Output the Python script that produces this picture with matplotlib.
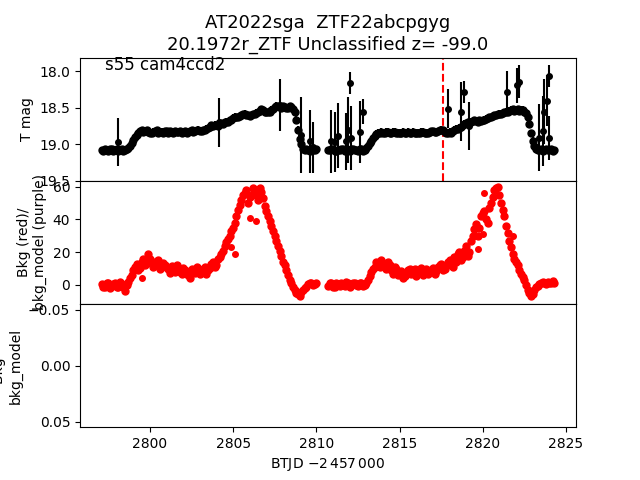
import numpy as np
import matplotlib
matplotlib.use("Agg")
import matplotlib.pyplot as plt

# ==========================================
# 1. LIGHT CURVE
# ==========================================
# first orbit
t1 = [2797.1, 2797.3, 2797.5, 2797.7, 2797.9, 2798.1, 2798.3, 2798.5, 2798.7, 2798.9,
      2799.1, 2799.3, 2799.5, 2799.7, 2799.9, 2800.1, 2800.3, 2800.5, 2800.7, 2800.9,
      2801.1, 2801.3, 2801.5, 2801.7, 2801.9, 2802.1, 2802.3, 2802.5, 2802.7, 2802.9,
      2803.1, 2803.3, 2803.5, 2803.7, 2803.9, 2804.1, 2804.3, 2804.5, 2804.7, 2804.9,
      2805.1, 2805.3, 2805.5, 2805.7, 2805.9, 2806.1, 2806.3, 2806.5, 2806.7, 2806.9,
      2807.1, 2807.3, 2807.5, 2807.7, 2807.9, 2808.1, 2808.3, 2808.5, 2808.7, 2808.9,
      2809.1, 2809.3, 2809.5, 2809.7, 2809.9]
mag1 = [19.08, 19.07, 19.09, 19.07, 19.08, 19.09, 19.07, 19.08, 19.05, 18.98,
        18.90, 18.84, 18.81, 18.82, 18.83, 18.84, 18.82, 18.84, 18.83, 18.82,
        18.84, 18.83, 18.82, 18.83, 18.84, 18.82, 18.83, 18.81, 18.82, 18.80,
        18.82, 18.80, 18.78, 18.74, 18.73, 18.75, 18.71, 18.70, 18.69, 18.66,
        18.62, 18.63, 18.60, 18.58, 18.60, 18.60, 18.59, 18.56, 18.52, 18.55,
        18.56, 18.53, 18.49, 18.48, 18.50, 18.49, 18.50, 18.49, 18.55, 18.80,
        19.00, 19.08, 19.08, 19.07, 19.08]
bkg1 = [0.5, -1.5, 1.0, -0.5, 1.5, -1.0, 0.5, -3.5, 2.0, 6.0,
        11.0, 9.0, 14.0, 12.0, 19.0, 14.0, 12.5, 15.0, 11.0, 12.5,
        9.5, 11.5, 8.0, 10.0, 7.0, 9.0, 6.0, 9.5, 7.5, 10.0,
        8.0, 11.0, 9.0, 13.0, 11.0, 16.0, 19.0, 24.0, 28.0, 33.0,
        38.0, 46.0, 52.0, 56.0, 50.0, 55.0, 58.0, 52.0, 57.0, 48.0,
        42.0, 36.0, 30.0, 24.0, 18.0, 12.0, 6.0, 1.0, -3.0, -5.5,
        -4.0, -2.0, 0.5, 1.5, 0.5]
t1b = [2797.2, 2797.4, 2797.6, 2797.8, 2798.0, 2798.2, 2798.4, 2798.6, 2798.8, 2799.0,
       2799.2, 2799.4, 2799.6, 2799.8, 2800.0, 2800.2, 2800.4, 2800.6, 2800.8, 2801.0,
       2801.2, 2801.4, 2801.6, 2801.8, 2802.0, 2802.2, 2802.4, 2802.6, 2802.8, 2803.0,
       2803.2, 2803.4, 2803.6, 2803.8, 2804.0, 2804.2, 2804.4, 2804.6, 2804.8, 2805.0,
       2805.2, 2805.4, 2805.6, 2805.8, 2806.0, 2806.2, 2806.4, 2806.6, 2806.8, 2807.0,
       2807.2, 2807.4, 2807.6, 2807.8, 2808.0, 2808.2, 2808.4, 2808.6, 2808.8, 2809.0,
       2809.2, 2809.4, 2809.6, 2809.8, 2810.0]
mag1b = [19.09, 19.08, 19.07, 19.09, 19.07, 19.08, 19.09, 19.07, 19.02, 18.94,
         18.87, 18.82, 18.83, 18.81, 18.84, 18.83, 18.81, 18.83, 18.84, 18.82,
         18.82, 18.84, 18.83, 18.82, 18.83, 18.84, 18.82, 18.83, 18.81, 18.82,
         18.81, 18.79, 18.76, 18.75, 18.74, 18.72, 18.72, 18.69, 18.67, 18.64,
         18.63, 18.61, 18.59, 18.60, 18.61, 18.59, 18.57, 18.54, 18.53, 18.56,
         18.55, 18.51, 18.47, 18.49, 18.48, 18.50, 18.48, 18.51, 18.66, 18.92,
         19.06, 19.07, 19.09, 19.08, 19.07]
bkg1b = [-1.0, 1.5, -2.0, 0.5, -1.5, 2.0, -1.0, 0.0, 4.0, 9.0,
         13.0, 10.5, 16.0, 13.5, 16.0, 11.0, 14.5, 10.0, 13.5, 11.0,
         7.5, 10.5, 12.0, 8.0, 10.5, 7.0, 4.0, 8.0, 11.0, 6.5,
         9.5, 7.0, 10.5, 14.0, 12.0, 17.0, 21.0, 26.0, 30.0, 35.0,
         42.0, 49.0, 55.0, 58.0, 54.0, 59.0, 55.0, 59.5, 53.0, 45.0,
         39.0, 33.0, 27.0, 21.0, 14.0, 9.0, 3.0, -1.0, -5.0, -6.5,
         -3.0, -1.0, 1.0, 0.0, 1.0]

# second orbit
t2 = [2810.7, 2810.9, 2811.1, 2811.3, 2811.5, 2811.7, 2811.9, 2812.1, 2812.3, 2812.5,
      2812.7, 2812.9, 2813.1, 2813.3, 2813.5, 2813.7, 2813.9, 2814.1, 2814.3, 2814.5,
      2814.7, 2814.9, 2815.1, 2815.3, 2815.5, 2815.7, 2815.9, 2816.1, 2816.3, 2816.5,
      2816.7, 2816.9, 2817.1, 2817.3, 2817.5, 2817.7, 2817.9, 2818.1, 2818.3, 2818.5,
      2818.7, 2818.9, 2819.1, 2819.3, 2819.5, 2819.7, 2819.9, 2820.1, 2820.3, 2820.5,
      2820.7, 2820.9, 2821.1, 2821.3, 2821.5, 2821.7, 2821.9, 2822.1, 2822.3, 2822.5,
      2822.7, 2822.9, 2823.1, 2823.3, 2823.5, 2823.7, 2823.9, 2824.1, 2824.3]
mag2 = [19.08, 19.07, 19.09, 19.08, 19.07, 19.09, 19.08, 19.07, 19.08, 19.09,
        19.07, 19.08, 19.02, 18.95, 18.88, 18.84, 18.83, 18.84, 18.83, 18.84,
        18.83, 18.84, 18.85, 18.84, 18.83, 18.84, 18.85, 18.84, 18.83, 18.85,
        18.84, 18.82, 18.83, 18.82, 18.80, 18.83, 18.84, 18.84, 18.80, 18.79,
        18.76, 18.72, 18.70, 18.69, 18.67, 18.69, 18.68, 18.66, 18.64, 18.63,
        18.60, 18.59, 18.58, 18.56, 18.55, 18.53, 18.54, 18.52, 18.53, 18.55,
        18.62, 18.85, 19.02, 19.08, 19.07, 19.08, 19.08, 19.07, 19.08]
bkg2 = [-0.5, 1.0, -1.0, 0.5, 1.5, -0.5, 1.0, 0.0, 1.5, -0.5,
        1.0, 0.0, 3.0, 8.0, 11.0, 13.0, 15.0, 12.0, 14.0, 9.0,
        11.0, 6.0, 8.5, 5.5, 9.0, 7.0, 9.5, 7.5, 10.5, 8.0,
        6.5, 9.0, 7.0, 11.0, 13.0, 10.0, 14.0, 12.0, 17.0, 19.0,
        15.0, 21.0, 18.0, 27.0, 34.0, 30.0, 42.0, 45.0, 38.0, 50.0,
        58.0, 60.0, 50.0, 42.0, 32.0, 23.0, 16.0, 12.0, 7.0, 3.0,
        -3.0, -6.5, -3.0, -0.5, 1.0, 1.5, 2.0, 1.0, 1.5]
t2b = [2810.8, 2811.0, 2811.2, 2811.4, 2811.6, 2811.8, 2812.0, 2812.2, 2812.4, 2812.6,
       2812.8, 2813.0, 2813.2, 2813.4, 2813.6, 2813.8, 2814.0, 2814.2, 2814.4, 2814.6,
       2814.8, 2815.0, 2815.2, 2815.4, 2815.6, 2815.8, 2816.0, 2816.2, 2816.4, 2816.6,
       2816.8, 2817.0, 2817.2, 2817.4, 2817.6, 2817.8, 2818.0, 2818.2, 2818.4, 2818.6,
       2818.8, 2819.0, 2819.2, 2819.4, 2819.6, 2819.8, 2820.0, 2820.2, 2820.4, 2820.6,
       2820.8, 2821.0, 2821.2, 2821.4, 2821.6, 2821.8, 2822.0, 2822.2, 2822.4, 2822.6,
       2822.8, 2823.0, 2823.2, 2823.4, 2823.6, 2823.8, 2824.0, 2824.2]
mag2b = [19.08, 19.07, 19.09, 19.08, 19.07, 19.08, 19.09, 19.07, 19.08, 19.07,
         19.09, 19.05, 18.98, 18.91, 18.86, 18.84, 18.85, 18.83, 18.84, 18.83,
         18.85, 18.84, 18.83, 18.85, 18.84, 18.83, 18.84, 18.85, 18.83, 18.84,
         18.83, 18.82, 18.83, 18.81, 18.81, 18.84, 18.83, 18.82, 18.79, 18.77,
         18.74, 18.71, 18.70, 18.68, 18.68, 18.67, 18.67, 18.65, 18.63, 18.61,
         18.60, 18.58, 18.57, 18.55, 18.54, 18.52, 18.53, 18.54, 18.53, 18.57,
         18.72, 18.95, 19.06, 19.08, 19.09, 19.07, 19.08, 19.09]
bkg2b = [1.0, -1.5, 1.5, -0.5, 0.5, 2.0, -1.0, 1.0, 0.0, 1.5,
         -0.5, 1.5, 5.5, 10.0, 14.0, 11.0, 13.5, 10.0, 12.5, 7.0,
         10.0, 7.5, 4.5, 7.5, 10.0, 8.0, 5.5, 9.0, 6.0, 10.0,
         8.0, 10.5, 8.5, 12.0, 9.0, 12.5, 15.0, 11.0, 14.0, 20.0,
         17.0, 24.0, 20.0, 30.0, 37.0, 35.0, 44.0, 40.0, 47.0, 54.0,
         59.0, 55.0, 46.0, 36.0, 27.0, 19.0, 14.0, 9.0, 5.0, 0.0,
         -5.0, -5.5, -1.5, 0.5, 2.0, 0.5, 1.5, 2.5]
mag_err = 0.05

# noisy points with big error bars
out_t = [2798.06, 2804.15, 2807.8, 2809.1, 2809.6, 2809.8, 2810.9, 2811.1, 2811.3, 2811.8,
         2811.9, 2812.05, 2812.1, 2812.6, 2812.8, 2817.9, 2818.7, 2818.85, 2819.2, 2821.45,
         2822.05, 2822.2, 2823.4, 2823.6, 2823.7, 2823.85, 2823.95, 2824.0]
out_mag = [18.97, 18.70, 18.46, 18.87, 18.96, 19.04, 18.96, 18.97, 18.88, 18.96,
           18.80, 18.16, 18.91, 18.83, 18.55, 18.51, 18.55, 18.28, 18.75, 18.28,
           18.19, 18.14, 18.91, 18.82, 18.55, 18.40, 18.91, 18.06]
out_err = [0.33, 0.33, 0.36, 0.52, 0.43, 0.35, 0.43, 0.41, 0.45, 0.39,
           0.45, 0.15, 0.44, 0.43, 0.17, 0.27, 0.40, 0.15, 0.33, 0.28,
           0.24, 0.23, 0.46, 0.48, 0.45, 0.35, 0.30, 0.15]

# stray background points
bkg_extra_t = [2799.5, 2804.9, 2805.1, 2806.0, 2806.4, 2819.7, 2820.0, 2820.1, 2821.8]
bkg_extra_v = [4.5, 23.0, 19.0, 41.0, 39.0, 22.0, 31.0, 56.0, 30.0]

t_peak = 2817.6
title = "AT2022sga  ZTF22abcpgyg\n20.1972r_ZTF Unclassified z= -99.0"

# ==========================================
# 2. PLOTTING
# ==========================================
fig, (ax1, ax2, ax3) = plt.subplots(3, 1, sharex=True, figsize=(6.4, 4.8))
fig.subplots_adjust(hspace=0)

t_all = t1 + t1b + t2 + t2b
mag_all = mag1 + mag1b + mag2 + mag2b
bkg_all = bkg1 + bkg1b + bkg2 + bkg2b

ax1.errorbar(t_all, mag_all, yerr=mag_err, fmt="o", color="k", ms=5)
ax1.errorbar(out_t, out_mag, yerr=out_err, fmt="o", color="k", ms=4)
ax1.axvline(t_peak, color="r", linestyle="--")
ax1.set_ylim(19.5, 17.81)
ax1.set_ylabel("T mag")
ax1.set_title(title, fontsize=13)
ax1.text(0.05, 0.9, "s55 cam4ccd2", fontsize=12, transform=ax1.transAxes)
ax1.tick_params(bottom=False, labelbottom=False)

ax2.plot(t_all, bkg_all, "o", color="r", ms=5)
ax2.plot(bkg_extra_t, bkg_extra_v, "o", color="r", ms=4)
ax2.set_ylim(-11.6, 63.6)
ax2.set_yticks([0, 20, 40, 60])
ax2.set_ylabel("Bkg (red)/\nbkg_model (purple)")
ax2.tick_params(bottom=False, labelbottom=False)

ax3.set_ylim(0.055, -0.055)
ax3.set_yticks([-0.05, 0.0, 0.05])
ax3.set_ylabel("Bkg -\nbkg_model")
ax3.set_xlim(2795.8, 2825.6)
ax3.set_xlabel("BTJD $-2\\,457\\,000$")

plt.savefig("out.png", dpi=100)
